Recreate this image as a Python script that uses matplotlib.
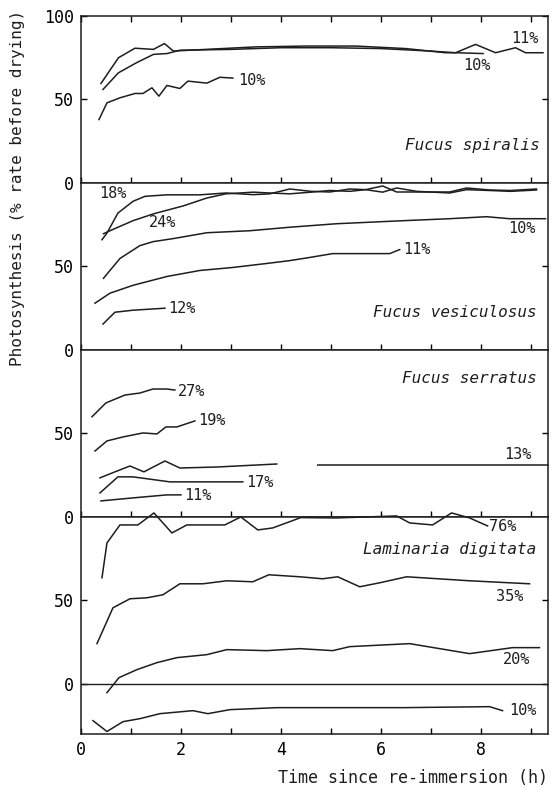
import numpy as np
import matplotlib
matplotlib.use("Agg")
import matplotlib.pyplot as plt

plt.rcParams['font.family'] = ['DejaVu Sans Mono', 'DejaVu Sans']

INK = '#1e1e1e'

# Fucus spiralis
spi11_t = [0.4, 0.75, 1.08, 1.45, 1.67, 1.85, 2.5, 3.5, 4.5, 5.5, 6.5, 7.3, 7.5, 7.9, 8.3, 8.7, 8.9, 9.25]
spi11_v = [59.6, 75, 80.7, 80, 83.5, 79, 80, 81.5, 82, 82, 80.5, 78, 78, 83, 78, 81, 78, 78]
spi10a_t = [0.44, 0.75, 1.11, 1.45, 1.72, 1.98, 3.0, 4.0, 5.0, 6.0, 7.0, 7.5, 8.05]
spi10a_v = [56, 66, 72, 77, 77.5, 79.5, 80, 81, 81, 80.5, 79, 78, 77.5]
spi10b_t = [0.36, 0.52, 0.78, 1.08, 1.24, 1.42, 1.56, 1.72, 1.98, 2.14, 2.52, 2.78, 3.04]
spi10b_v = [38, 48, 51, 53.6, 53.6, 57, 52, 58.4, 56.6, 61, 59.8, 63.3, 62.8]

# Fucus vesiculosus
ves18_t = [0.42, 0.52, 0.74, 1.04, 1.28, 1.72, 2.38, 2.9, 3.45, 3.78, 4.18, 4.6, 4.98, 5.38, 5.7, 6.04, 6.32, 6.72, 7.38, 7.72, 8.18, 8.6, 9.12]
ves18_v = [66, 70, 82, 89, 92, 92.9, 92.9, 94, 93, 93.5, 96.4, 95, 94.6, 96.4, 96, 98.2, 94.6, 94.6, 94.6, 97, 95.8, 95.5, 96.4]
ves24_t = [0.45, 0.58, 1.04, 1.45, 2.05, 2.52, 2.9, 3.45, 3.78, 4.18, 4.6, 4.98, 5.38, 5.7, 6.04, 6.32, 6.72, 7.38, 7.72, 8.18, 8.6, 9.12]
ves24_v = [69.6, 71.4, 77.4, 81.5, 86.3, 91, 93.5, 94.5, 94, 93.5, 94.5, 95.5, 95, 96, 94.5, 97, 95, 94, 96, 95.5, 95, 95.8]
ves10_t = [0.45, 0.78, 1.18, 1.45, 1.85, 2.52, 3.38, 4.18, 5.12, 6.44, 7.38, 8.12, 8.58, 9.3]
ves10_v = [42.9, 54.8, 62.5, 64.9, 66.7, 70.2, 71.4, 73.5, 75.6, 77.4, 78.6, 79.8, 78.6, 78.6]
ves11_t = [0.28, 0.58, 1.04, 1.72, 2.38, 3.04, 3.72, 4.18, 4.58, 5.04, 6.18, 6.38]
ves11_v = [28, 34, 38.7, 44, 47.6, 49.4, 51.8, 53.5, 55.4, 57.7, 57.7, 60.1]
ves12_t = [0.44, 0.68, 1.04, 1.68]
ves12_v = [15.5, 22.6, 23.8, 25]

# Fucus serratus
ser27_t = [0.22, 0.5, 0.88, 1.18, 1.44, 1.72, 1.88]
ser27_v = [60, 68.3, 73, 74.2, 76.6, 76.6, 76]
ser19_t = [0.28, 0.52, 0.84, 1.24, 1.52, 1.7, 1.92, 2.28]
ser19_v = [39.5, 45.5, 47.9, 50.3, 49.7, 53.9, 53.9, 57.5]
ser13_t = [0.38, 0.68, 0.98, 1.26, 1.68, 1.98, 2.72, 3.92, 4.3, 4.74, 9.35]
ser13_v = [23.4, 27, 30.5, 27, 33.5, 29.3, 29.9, 31.7, np.nan, 31.1, 31.1]
ser17_t = [0.38, 0.74, 1.04, 1.78, 3.24]
ser17_v = [14.4, 24, 24, 21, 21]
ser11_t = [0.4, 1.04, 1.72, 2.0]
ser11_v = [9.6, 11.4, 13.2, 13.2]

# Laminaria digitata
lam76_t = [0.42, 0.52, 0.78, 1.14, 1.46, 1.82, 2.12, 2.88, 3.2, 3.54, 3.84, 4.4, 5.12, 6.32, 6.58, 7.04, 7.42, 7.78, 8.14]
lam76_v = [63.5, 84.4, 95.2, 95.2, 102.4, 90.4, 95.2, 95.2, 100, 92.2, 93.4, 99.6, 99.4, 100.6, 96.4, 95.2, 102.4, 99.4, 94.6]
lam35_t = [0.32, 0.64, 0.98, 1.32, 1.64, 1.98, 2.44, 2.92, 3.44, 3.76, 4.38, 4.84, 5.14, 5.58, 5.98, 6.52, 7.78, 8.98]
lam35_v = [24, 45.5, 50.9, 51.5, 53.3, 59.9, 59.9, 61.7, 61.1, 65.3, 64.1, 62.9, 64.1, 58.1, 60.5, 64.1, 61.7, 59.9]
lam20_t = [0.52, 0.76, 1.12, 1.52, 1.92, 2.52, 2.92, 3.72, 4.38, 5.04, 5.38, 6.58, 7.78, 8.64, 9.18]
lam20_v = [-5.4, 3.6, 8.4, 12.6, 15.6, 17.4, 20.4, 19.8, 21, 19.8, 22.2, 24, 18, 21.6, 21.6]
lam10_t = [0.24, 0.52, 0.84, 1.18, 1.58, 2.24, 2.54, 2.98, 3.92, 6.44, 8.18, 8.44]
lam10_v = [-22.2, -28.7, -22.8, -21, -18, -16.2, -18, -15.6, -14.4, -14.4, -13.8, -16.2]

panels = [
    ("Fucus spiralis", (9.18, 22.3),
     [(spi11_t, spi11_v, "11%", (8.88, 86.7)),
      (spi10a_t, spi10a_v, "10%", (7.92, 70.5)),
      (spi10b_t, spi10b_v, "10%", (3.42, 61.4))]),
    ("Fucus vesiculosus", (9.12, 22.6),
     [(ves18_t, ves18_v, "18%", (0.64, 93.5)),
      (ves24_t, ves24_v, "24%", (1.64, 76.2)),
      (ves10_t, ves10_v, "10%", (8.82, 72.6)),
      (ves11_t, ves11_v, "11%", (6.72, 60.0)),
      (ves12_t, ves12_v, "12%", (2.02, 25.0))]),
    ("Fucus serratus", (9.12, 83.2),
     [(ser27_t, ser27_v, "27%", (2.22, 74.9)),
      (ser19_t, ser19_v, "19%", (2.62, 57.5)),
      (ser13_t, ser13_v, "13%", (8.74, 37.1)),
      (ser17_t, ser17_v, "17%", (3.58, 20.4)),
      (ser11_t, ser11_v, "11%", (2.34, 12.6))]),
    ("Laminaria digitata", (9.12, 80.2),
     [(lam76_t, lam76_v, "76%", (8.44, 94.0)),
      (lam35_t, lam35_v, "35%", (8.58, 52.1)),
      (lam20_t, lam20_v, "20%", (8.72, 14.4)),
      (lam10_t, lam10_v, "10%", (8.84, -16.2))]),
]

fig = plt.figure(figsize=(5.54, 7.9), dpi=100)
gs = fig.add_gridspec(4, 1, height_ratios=[100, 100, 100, 130], hspace=0,
                      left=81 / 554, right=548 / 554, top=1 - 16 / 790, bottom=1 - 734 / 790)

axes = []
for i, (name, name_pos, series) in enumerate(panels):
    ax = fig.add_subplot(gs[i])
    axes.append(ax)
    for t, v, lab, pos in series:
        ax.plot(t, v, color=INK, lw=1.1, clip_on=False)
        ax.text(pos[0], pos[1], lab, fontsize=11, color=INK, ha='center', va='center')
    ax.text(name_pos[0], name_pos[1], name, fontsize=11.5, style='italic', color=INK,
            ha='right', va='center')
    ax.set_xlim(0, 9.35)
    if i == 3:
        ax.set_ylim(-30.2, 100)
        ax.axhline(0, color=INK, lw=1.0)
        ax.set_yticks([0, 50])
    elif i == 0:
        ax.set_ylim(0, 100)
        ax.set_yticks([0, 50, 100])
    else:
        ax.set_ylim(0, 100)
        ax.set_yticks([0, 50])
    ax.set_xticks([0, 2, 4, 6, 8])
    ax.set_xticks([1, 3, 5, 7, 9], minor=True)
    ax.tick_params(axis='x', which='both', direction='in', length=4, width=1.0,
                   top=(i == 0), bottom=True, labelbottom=(i == 3), labelsize=12, pad=5)
    ax.tick_params(axis='y', direction='in', length=4, width=1.0, left=True, right=True,
                   labelsize=12, pad=5)
    for s in ax.spines.values():
        s.set_linewidth(1.1)
        s.set_color(INK)

axes[3].set_xlabel("Time since re-immersion (h)", fontsize=12, color=INK,
                   loc='right', labelpad=7)
fig.text(18 / 554, 1 - 188 / 790, "Photosynthesis (% rate before drying)", fontsize=11.5,
         color=INK, rotation=90, ha='center', va='center')

fig.savefig("out.png", dpi=100)
